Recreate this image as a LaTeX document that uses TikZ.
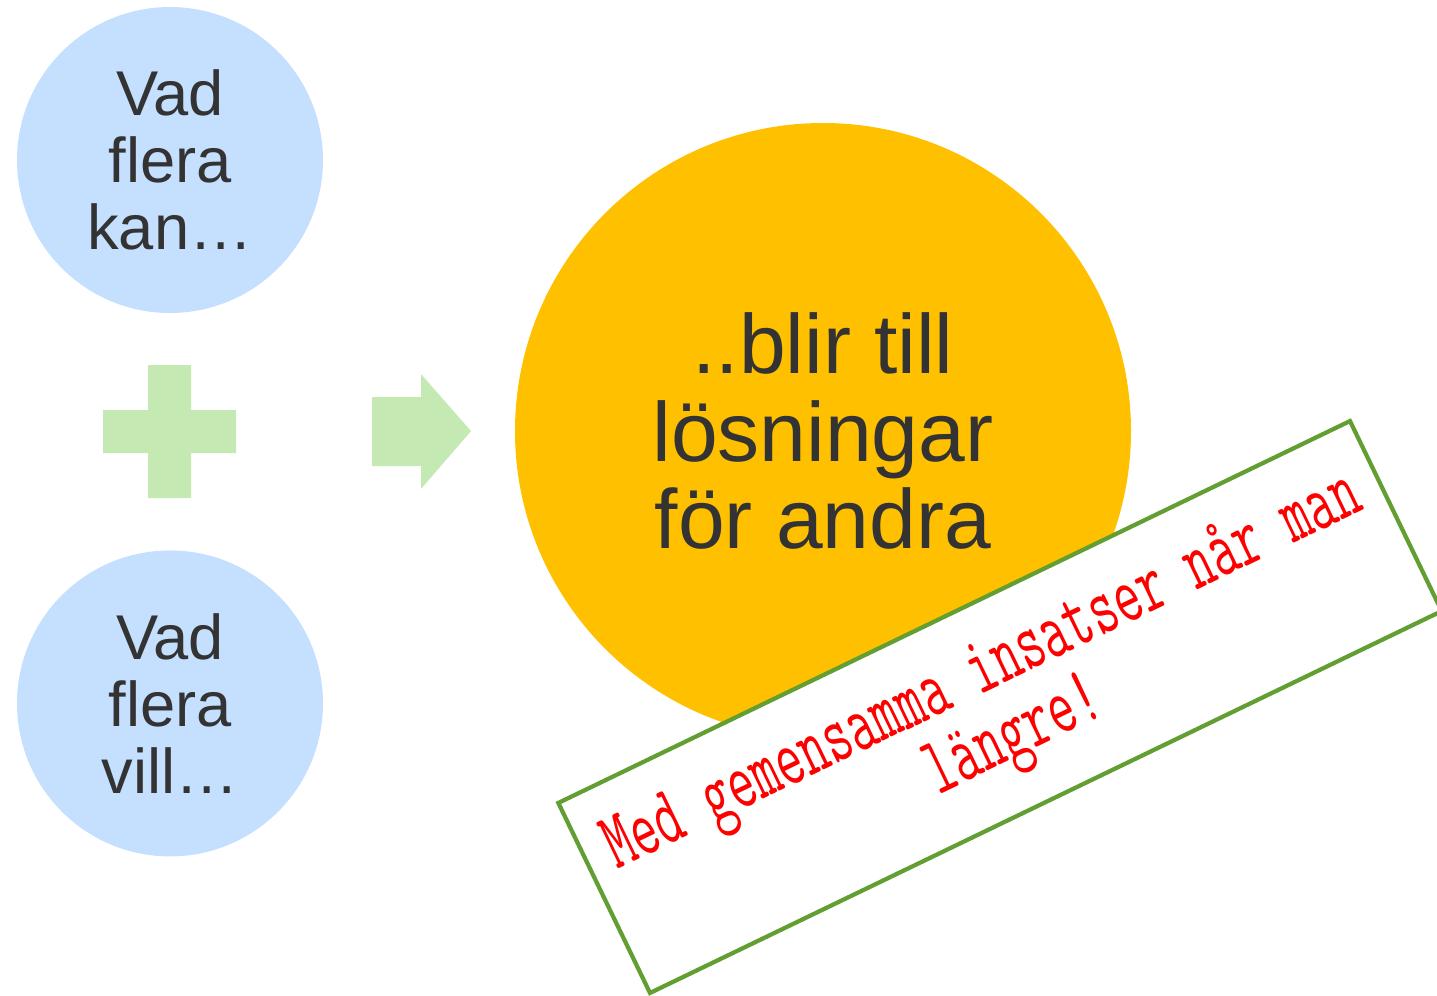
\documentclass[tikz,border=0pt]{standalone}
\usepackage{fontspec}
\setmainfont{Liberation Sans}
\usepackage{graphicx}
\usetikzlibrary{positioning}

\definecolor{bluefill}{RGB}{197,224,255}
\definecolor{greenfill}{RGB}{197,233,179}
\definecolor{goldfill}{RGB}{255,192,0}
\definecolor{darktext}{RGB}{51,51,51}
\definecolor{frame}{RGB}{98,158,50}

\begin{document}
\begin{tikzpicture}[
bubble/.style={
  circle,
  fill=bluefill,
  text=darktext,
  align=center,
  inner sep=0pt,
  minimum size=3.06cm,
  font=\fontsize{18}{19.1}\selectfont
  },
big/.style={
  circle,
  fill=goldfill,
  text=darktext,
  align=center,
  inner sep=0pt,
  minimum size=6.16cm,
  font=\fontsize{23.9}{25}\selectfont
  },
note/.style={
  draw=frame,
  line width=1.2pt,
  fill=white,
  rectangle,
  inner sep=0pt,
  minimum width=8.79cm,
  minimum height=2.11cm,
  text=red
  },
sign/.style={
  fill=greenfill,
  draw=none
  }
]
\useasboundingbox (0,0) rectangle (14.37,-9.95);

\node[bubble] (kan) at (1.70,-1.60) {Vad\\flera\\kan\dots};
\node[bubble, below=2.36cm of kan] (vill) {Vad\\flera\\vill\dots};

% plus and arrow
\fill[sign] (1.03,-4.10) -- (1.48,-4.10) -- (1.48,-3.65) -- (1.91,-3.65)
  -- (1.91,-4.10) -- (2.36,-4.10) -- (2.36,-4.53) -- (1.91,-4.53)
  -- (1.91,-4.98) -- (1.48,-4.98) -- (1.48,-4.53) -- (1.03,-4.53) -- cycle;
\fill[sign] (3.72,-3.97) -- (4.21,-3.97) -- (4.21,-3.74) -- (4.71,-4.31)
  -- (4.21,-4.89) -- (4.21,-4.66) -- (3.72,-4.66) -- cycle;

\node[big] (andra) at (8.23,-4.31) {..blir till\\l\"osningar\\f\"or andra};

\node[note, rotate=25.75] (insats) at (10.00,-7.07)
  {\raisebox{-6pt}{\scalebox{1}[1.6]{\ttfamily\fontsize{14.8}{12}\selectfont
   \begin{tabular}{@{}c@{}}Med gemensamma insatser når man\\längre!\end{tabular}}}};

\end{tikzpicture}
\end{document}
